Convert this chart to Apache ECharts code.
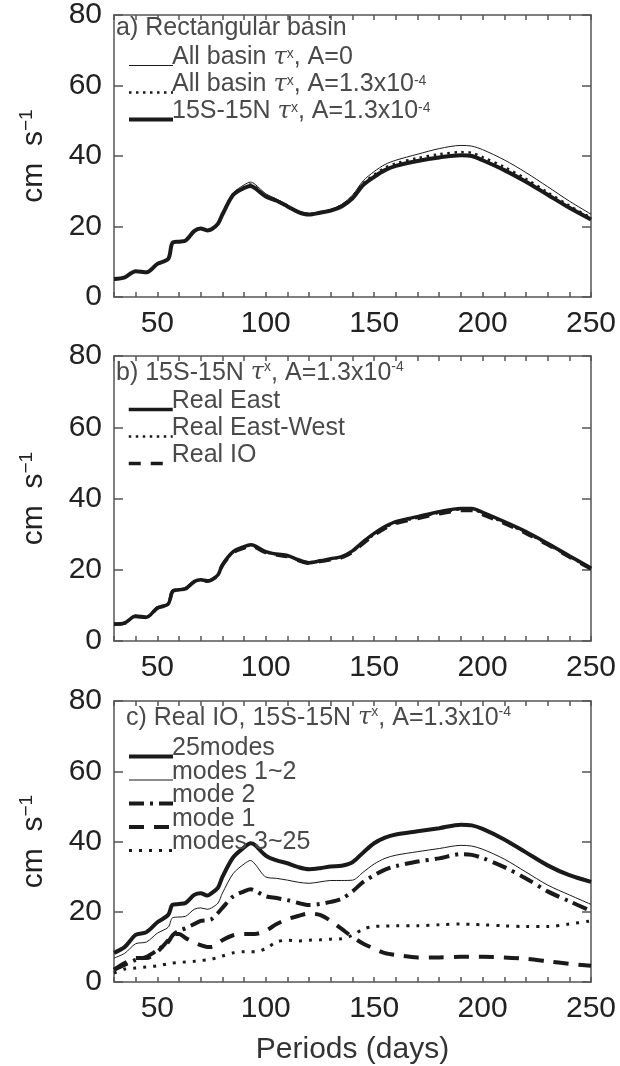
<!DOCTYPE html>
<html>
<head>
<meta charset="utf-8">
<script src="https://cdn.jsdelivr.net/npm/echarts@6/dist/echarts.min.js"></script>
<style>
    html, body { margin: 0; padding: 0; background: #ffffff; }
    #chart { width: 620px; height: 1066px; }
</style>
</head>
<body>
<div id="chart"></div>
<script>
// Periods (days) sampled along the curves
const period = [30, 35, 40, 45, 50, 55, 57, 60, 63, 67, 70, 73, 75, 78, 80, 85, 90, 93, 95, 100,
    105, 110, 115, 120, 125, 130, 135, 140, 145, 150, 155, 160, 170, 180, 190, 195, 200, 210, 220, 230, 240, 250];

// a) Rectangular basin
const aAllBasinA0 = [5.2, 5.7, 7.4, 7.1, 9.5, 10.9, 15.5, 15.8, 16.1, 18.8, 19.5, 19.0, 19.3, 20.9, 23.6, 29.5, 31.8, 32.6, 32.0, 29.3,
    27.8, 26.1, 24.4, 23.7, 24.2, 24.9, 26.3, 28.9, 33.0, 35.6, 37.6, 38.8, 40.5, 42.1, 43.0, 42.8, 41.8, 38.9, 35.3, 31.3, 27.2, 23.5];
const aAllBasinA13 = [5.1, 5.6, 7.3, 7.0, 9.4, 10.8, 15.4, 15.7, 16.0, 18.7, 19.4, 18.9, 19.2, 20.8, 23.5, 29.2, 31.2, 31.9, 31.3, 28.8,
    27.5, 25.9, 24.2, 23.5, 24.0, 24.7, 26.0, 28.4, 32.3, 34.7, 36.7, 37.9, 39.4, 40.5, 41.1, 40.9, 39.7, 36.9, 33.5, 29.7, 25.9, 22.5];
const a15S15N = [5.1, 5.6, 7.3, 7.0, 9.4, 10.8, 15.4, 15.7, 16.0, 18.7, 19.4, 18.9, 19.2, 20.8, 23.4, 29.0, 30.9, 31.5, 30.9, 28.5,
    27.3, 25.7, 24.1, 23.4, 23.9, 24.5, 25.7, 28.0, 31.8, 34.1, 36.0, 37.2, 38.6, 39.6, 40.2, 40.0, 38.8, 36.0, 32.7, 29.0, 25.3, 22.0];

// b) 15S-15N forcing, different coastlines
const bRealEast = [4.8, 5.1, 7.0, 6.7, 9.3, 10.4, 14.0, 14.4, 14.7, 16.7, 17.2, 16.9, 17.2, 18.6, 21.4, 25.1, 26.5, 27.0, 26.7, 25.1,
    24.4, 24.0, 22.8, 22.0, 22.5, 23.1, 23.7, 25.3, 27.9, 30.2, 32.1, 33.5, 34.9, 36.3, 37.2, 37.2, 36.1, 33.5, 30.7, 27.4, 23.9, 20.5];
const bRealEastWest = [4.8, 5.1, 7.0, 6.7, 9.3, 10.4, 14.0, 14.4, 14.7, 16.7, 17.2, 16.9, 17.2, 18.6, 21.3, 25.0, 26.3, 26.8, 26.5, 25.0,
    24.3, 23.9, 22.7, 21.9, 22.4, 23.0, 23.6, 25.1, 27.6, 29.9, 31.8, 33.2, 34.6, 36.0, 36.9, 36.9, 35.8, 33.2, 30.4, 27.1, 23.7, 20.3];
const bRealIO = [4.7, 5.0, 6.9, 6.6, 9.2, 10.3, 13.9, 14.3, 14.6, 16.6, 17.1, 16.8, 17.1, 18.5, 21.2, 24.8, 26.1, 26.6, 26.3, 24.8,
    24.1, 23.7, 22.6, 21.8, 22.3, 22.8, 23.4, 24.9, 27.4, 29.7, 31.6, 33.0, 34.4, 35.7, 36.6, 36.6, 35.5, 33.0, 30.2, 27.0, 23.6, 20.2];

// c) Real IO, vertical mode decomposition
const c25modes = [8.3, 10.0, 13.4, 14.2, 17.0, 19.1, 22.0, 22.2, 22.5, 24.8, 25.3, 24.6, 25.3, 26.9, 29.9, 35.5, 38.3, 39.5, 39.0, 36.0,
    34.6, 33.8, 32.7, 32.1, 32.4, 32.9, 33.1, 34.1, 36.9, 39.5, 41.1, 42.0, 42.9, 43.8, 44.8, 44.6, 43.6, 40.6, 36.9, 33.2, 30.4, 28.5];
const cModes1to2 = [6.8, 8.2, 10.9, 11.4, 13.9, 15.6, 18.3, 18.5, 18.7, 20.7, 21.1, 20.7, 21.1, 22.5, 25.3, 30.9, 33.6, 34.6, 33.6, 29.9,
    29.5, 29.0, 28.4, 28.1, 28.5, 28.9, 28.9, 29.0, 31.3, 33.6, 35.2, 36.1, 37.1, 38.0, 38.9, 38.7, 37.8, 35.0, 31.3, 27.6, 24.8, 22.1];
const cMode2 = [3.5, 4.9, 6.3, 7.2, 9.1, 11.4, 13.3, 14.6, 15.3, 16.5, 17.4, 17.6, 17.9, 19.7, 21.1, 24.4, 25.8, 26.4, 26.0, 24.4,
    23.9, 23.3, 22.5, 21.9, 22.2, 22.8, 23.7, 25.8, 28.5, 30.4, 32.0, 33.0, 34.3, 35.2, 36.4, 36.2, 35.3, 32.7, 29.5, 25.8, 23.0, 20.2];
const cMode1 = [3.5, 5.4, 6.8, 6.8, 8.6, 11.9, 13.7, 13.7, 12.5, 11.2, 10.5, 10.0, 10.0, 11.0, 11.9, 13.3, 13.7, 13.7, 13.7, 14.6,
    16.5, 17.9, 18.8, 19.5, 19.1, 17.4, 15.1, 12.8, 10.9, 9.5, 8.2, 7.7, 7.0, 7.0, 7.2, 7.2, 7.2, 7.0, 6.6, 5.9, 5.2, 4.6];
const cModes3to25 = [2.5, 3.7, 4.0, 4.3, 4.6, 5.2, 5.4, 5.6, 5.7, 5.9, 6.1, 6.3, 6.5, 7.0, 7.4, 8.3, 8.6, 8.6, 8.6, 9.5,
    11.4, 11.9, 11.7, 11.9, 12.0, 12.2, 12.3, 13.3, 15.1, 15.8, 15.9, 16.0, 16.0, 16.3, 16.5, 16.4, 16.3, 16.0, 15.8, 15.8, 16.5, 17.4];

// Axis ranges and tick steps
const xMin = 30, xMax = 250, xTickStep = 10, xLabelStep = 50;
const yMin = 0, yMax = 80, yTickStep = 20;

// Panel titles and legend labels (rich text)
const panelTitles = [
    'a) Rectangular basin',
    'b) 15S-15N {tau|τ}{sup|x}, A=1.3x10{sup|-4}',
    'c) Real IO, 15S-15N {tau|τ}{sup|x}, A=1.3x10{sup|-4}'
];
const legendLabels = {
    'All basin tx, A=0': 'All basin {tau|τ}{sup|x}, A=0',
    'All basin tx, A=1.3e-4': 'All basin {tau|τ}{sup|x}, A=1.3x10{sup|-4}',
    '15S-15N tx, A=1.3e-4': '15S-15N {tau|τ}{sup|x}, A=1.3x10{sup|-4}',
    'Real East': 'Real East',
    'Real East-West': 'Real East-West',
    'Real IO': 'Real IO',
    '25modes': '25modes',
    'modes 1~2': 'modes 1~2',
    'mode 2': 'mode 2',
    'mode 1': 'mode 1',
    'modes 3~25': 'modes 3~25'
};

const ink = '#1a1a1a';
const boxColor = '#555555';
const textGray = '#4a4a4a';
const gridTops = [12, 356, 701];
const gridLeft = 114, gridWidth = 477, gridHeight = 285;
const textSize = 25;

const richText = {
    tau: { fontFamily: 'DejaVu Serif', fontStyle: 'italic', fontSize: 24, color: textGray },
    sup: { fontSize: 14, verticalAlign: 'top', color: textGray, padding: [0, 0, 12, 0] }
};

function pairs(values) {
    return period.map((p, i) => [p, values[i]]);
}

function makeXAxes(gridIndex, isLast) {
    const bottom = {
        type: 'value', gridIndex: gridIndex, position: 'bottom',
        min: xMin, max: xMax, interval: xTickStep,
        axisLine: { show: true, onZero: false, lineStyle: { color: boxColor, width: 1.5 } },
        axisTick: { show: true, inside: true, length: 5, lineStyle: { color: boxColor, width: 1.5 } },
        splitLine: { show: false },
        axisLabel: {
            interval: 0, margin: 12, color: '#222', fontSize: 30, fontFamily: 'Liberation Sans',
            formatter: v => (v % xLabelStep === 0 ? String(v) : '')
        }
    };
    if (isLast) {
        bottom.name = 'Periods (days)';
        bottom.nameLocation = 'middle';
        bottom.nameGap = 53;
        bottom.nameTextStyle = { fontSize: 30, color: '#333', fontFamily: 'Liberation Sans' };
    }
    const top = {
        type: 'value', gridIndex: gridIndex, position: 'top',
        min: xMin, max: xMax, interval: xTickStep,
        axisLine: { show: true, onZero: false, lineStyle: { color: boxColor, width: 1.5 } },
        axisTick: { show: true, inside: true, length: 5, lineStyle: { color: boxColor, width: 1.5 } },
        splitLine: { show: false },
        axisLabel: { show: false }
    };
    return [bottom, top];
}

function makeYAxes(gridIndex) {
    const left = {
        type: 'value', gridIndex: gridIndex, position: 'left',
        min: yMin, max: yMax, interval: yTickStep,
        name: '{u|cm  s}{sup|−1}',
        nameLocation: 'middle', nameRotate: 90, nameGap: 64,
        nameTextStyle: {
            rich: {
                u: { fontSize: 30, color: '#222', fontFamily: 'Liberation Sans' },
                sup: { fontSize: 19, color: '#222', fontFamily: 'Liberation Sans', verticalAlign: 'top', padding: [0, 0, 14, 0] }
            }
        },
        axisLine: { show: true, onZero: false, lineStyle: { color: boxColor, width: 1.5 } },
        axisTick: { show: true, inside: true, length: 9, lineStyle: { color: boxColor, width: 1.5 } },
        splitLine: { show: false },
        axisLabel: { margin: 12, color: '#222', fontSize: 30, fontFamily: 'Liberation Sans' }
    };
    const right = {
        type: 'value', gridIndex: gridIndex, position: 'right',
        min: yMin, max: yMax, interval: yTickStep,
        axisLine: { show: true, onZero: false, lineStyle: { color: boxColor, width: 1.5 } },
        axisTick: { show: true, inside: true, length: 9, lineStyle: { color: boxColor, width: 1.5 } },
        splitLine: { show: false },
        axisLabel: { show: false }
    };
    return [left, right];
}

function makeLine(name, panel, values, width, dash) {
    return {
        name: name,
        type: 'line',
        xAxisIndex: panel * 2,
        yAxisIndex: panel * 2,
        data: pairs(values),
        symbol: 'none',
        smooth: 0.3,
        lineStyle: { color: ink, width: width, type: dash, cap: 'butt' },
        itemStyle: { color: ink },
        emphasis: { disabled: true },
        z: 3
    };
}

// Legend: the sample line sits at the text baseline, so the text is lifted
// with bottom padding and the rows are pulled together with a negative gap
function makeLegend(names, top, pitch) {
    const lift = 16;
    const lineH = 21;
    return {
        data: names,
        orient: 'vertical',
        left: 122,
        top: top,
        itemWidth: 44,
        itemHeight: 16,
        itemGap: pitch - (lineH + lift),
        selectedMode: false,
        itemStyle: { opacity: 0 },
        lineStyle: { width: 'inherit', type: 'inherit' },
        formatter: name => legendLabels[name],
        textStyle: {
            fontSize: textSize, lineHeight: lineH, color: textGray, fontFamily: 'Liberation Sans',
            padding: [0, 0, lift, -6],
            rich: Object.assign({}, richText)
        }
    };
}

const chart = echarts.init(document.getElementById('chart'), null, { renderer: 'canvas' });

const grids = gridTops.map(t => ({ left: gridLeft, top: t, width: gridWidth, height: gridHeight }));

let xAxes = [], yAxes = [];
for (let i = 0; i < 3; i++) {
    xAxes = xAxes.concat(makeXAxes(i, i === 2));
    yAxes = yAxes.concat(makeYAxes(i));
}

const titles = panelTitles.map((txt, i) => ({
    text: txt,
    left: i === 2 ? 126 : 116,
    top: gridTops[i] + 4,
    padding: 0,
    textStyle: {
        fontSize: textSize, fontWeight: 'normal', color: textGray, fontFamily: 'Liberation Sans',
        rich: Object.assign({}, richText)
    }
}));

const dotA = [2.5, 4.5];
const dotC = [3, 7];
const dashC = [15, 10];
const dashDotC = [15, 6, 3, 6];

const series = [
    makeLine('All basin tx, A=0', 0, aAllBasinA0, 1, 'solid'),
    makeLine('All basin tx, A=1.3e-4', 0, aAllBasinA13, 2.5, dotA),
    makeLine('15S-15N tx, A=1.3e-4', 0, a15S15N, 4, 'solid'),

    makeLine('Real East', 1, bRealEast, 3.5, 'solid'),
    makeLine('Real East-West', 1, bRealEastWest, 2.5, dotA),
    makeLine('Real IO', 1, bRealIO, 3.5, [12, 10]),

    makeLine('25modes', 2, c25modes, 4, 'solid'),
    makeLine('modes 1~2', 2, cModes1to2, 1, 'solid'),
    makeLine('mode 2', 2, cMode2, 4, dashDotC),
    makeLine('mode 1', 2, cMode1, 4, dashC),
    makeLine('modes 3~25', 2, cModes3to25, 3, dotC)
];

const option = {
    backgroundColor: '#ffffff',
    animation: false,
    title: titles,
    legend: [
        makeLegend(['All basin tx, A=0', 'All basin tx, A=1.3e-4', '15S-15N tx, A=1.3e-4'], gridTops[0] + 28, 25),
        makeLegend(['Real East', 'Real East-West', 'Real IO'], gridTops[1] + 28, 25),
        makeLegend(['25modes', 'modes 1~2', 'mode 2', 'mode 1', 'modes 3~25'], gridTops[2] + 30, 21.5)
    ],
    grid: grids,
    xAxis: xAxes,
    yAxis: yAxes,
    series: series
};

chart.setOption(option);
</script>
</body>
</html>
